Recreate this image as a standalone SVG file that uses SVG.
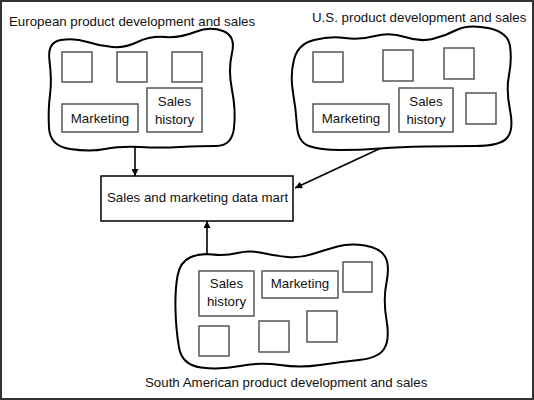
<svg xmlns="http://www.w3.org/2000/svg" width="534" height="400" viewBox="0 0 534 400">
<defs>
<marker id="ah" viewBox="0 0 10 10" refX="10" refY="5" markerWidth="10" markerHeight="7" markerUnits="userSpaceOnUse" orient="auto">
<path d="M0,0 L10,5 L0,10 Z" fill="#000"/>
</marker>
<style>
text{font-family:"Liberation Sans",Arial,sans-serif;font-size:13.3px;fill:#111}
.c{text-anchor:middle}
.blob{fill:none;stroke:#000;stroke-width:2}
.sq{fill:#fff;stroke:#555;stroke-width:1.5}
.mart{fill:#fff;stroke:#000;stroke-width:1.5}
.conn{stroke:#000;stroke-width:1.6;fill:none}
</style>
</defs>
<rect x="1" y="1" width="532" height="398" fill="#fff" stroke="#333" stroke-width="2"/>

<g id="europe">
<text x="9" y="26">European product development and sales</text>
<path class="blob" d="M61,40 Q75,38 87.5,42 Q100,46 112.5,47 Q125,48 137.5,42 Q150,36 165,37 Q180,38 195,32 Q210,26 223,31 Q236,36 232,53 Q228,70 232,90 Q236,110 234,128 Q232,146 216,146 Q200,146 180,147 Q160,148 140,147 Q120,146 105,149 Q90,152 70,149 Q50,146 49,128 Q48,110 50,95 Q52,80 49.5,61 Q47,42 61,40 Z"/>
<rect class="sq" x="62" y="52" width="30" height="30"/>
<rect class="sq" x="117" y="52" width="30" height="30"/>
<rect class="sq" x="172" y="52" width="30" height="30"/>
<rect class="sq" x="62" y="104" width="76" height="28"/>
<text class="c" x="100" y="123">Marketing</text>
<rect class="sq" x="147" y="88" width="55" height="44"/>
<text class="c" x="174.5" y="106">Sales</text>
<text class="c" x="174.5" y="124">history</text>
</g>

<g id="us">
<text x="312" y="22">U.S. product development and sales</text>
<path class="blob" d="M314,40 Q330,36 345,38 Q360,40 375,36 Q390,32 405,37 Q420,42 432.5,39 Q445,36 456.5,30 Q468,24 488,28 Q508,32 510,46 Q512,60 509,75 Q506,90 510,110 Q514,130 507,138 Q500,146 475,146 Q450,146 425,146.5 Q400,147 380,148.5 Q360,150 340,150 Q320,150 309,146 Q298,142 297,126 Q296,110 293,92.5 Q290,75 294,59.5 Q298,44 314,40 Z"/>
<rect class="sq" x="313" y="52" width="30" height="30"/>
<rect class="sq" x="383" y="50" width="30" height="31"/>
<rect class="sq" x="444" y="48" width="30" height="31"/>
<rect class="sq" x="466" y="93" width="30" height="31"/>
<rect class="sq" x="313" y="104" width="76" height="28"/>
<text class="c" x="351" y="123">Marketing</text>
<rect class="sq" x="399" y="88" width="54" height="44"/>
<text class="c" x="426" y="106">Sales</text>
<text class="c" x="426" y="124">history</text>
</g>

<g id="datamart">
<rect class="mart" x="101" y="176" width="192" height="45"/>
<text x="107" y="202">Sales and marketing data mart</text>
</g>

<g id="southamerica">
<path class="blob" d="M190,257.5 Q200,253 212.5,254.5 Q225,256 237.5,253 Q250,250 262.5,253 Q275,256 287.5,257 Q300,258 312.5,254 Q325,250 337.5,246.5 Q350,243 365,245.5 Q380,248 385,256.5 Q390,265 386.5,282.5 Q383,300 386.5,320 Q390,340 384,349 Q378,358 359,360 Q340,362 320,365 Q300,368 280,365 Q260,362 240,366 Q220,370 201,367.5 Q182,365 179,347.5 Q176,330 175.5,310 Q175,290 177.5,276 Q180,262 190,257.5 Z"/>
<rect class="sq" x="199" y="271" width="55" height="45"/>
<text class="c" x="226.5" y="288">Sales</text>
<text class="c" x="226.5" y="306">history</text>
<rect class="sq" x="262" y="271" width="76" height="27"/>
<text class="c" x="300" y="288">Marketing</text>
<rect class="sq" x="343" y="262" width="29" height="30"/>
<rect class="sq" x="199" y="326" width="30" height="30"/>
<rect class="sq" x="259" y="321" width="30" height="31"/>
<rect class="sq" x="307" y="311" width="30" height="31"/>
<text x="145" y="387">South American product development and sales</text>
</g>

<g id="connectors">
<line class="conn" x1="135" y1="147" x2="135" y2="176" marker-end="url(#ah)"/>
<line class="conn" x1="380" y1="148.5" x2="295" y2="188" marker-end="url(#ah)"/>
<line class="conn" x1="207" y1="254" x2="207" y2="221" marker-end="url(#ah)"/>
</g>
</svg>
